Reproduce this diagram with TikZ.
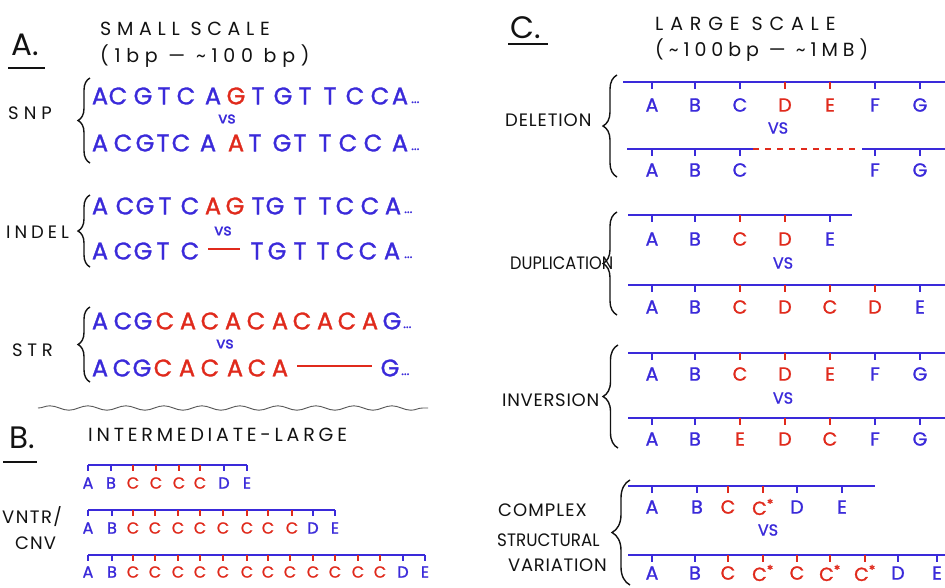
\documentclass[tikz,border=0pt]{standalone}
\usepackage{fontspec}
\setmainfont{Poppins}
\usetikzlibrary{decorations.pathreplacing,decorations.pathmorphing}
\definecolor{cb}{RGB}{58,42,218}
\definecolor{cr}{RGB}{224,42,28}
\definecolor{ink}{RGB}{18,18,18}
% letter-spaced text
\newcommand\ls[2]{{\addfontfeature{LetterSpace=#1}#2}}
% marker-pen weight for the coloured letters
\newcommand\mk{\addfontfeature{FakeBold=1.2}}
% a row of sequence letters: name, y, list x/letter/colour
\newcommand\seqrow[3]{\foreach \x/\l/\c [count=\i] in {#3} {\node[seq,text=\c] (#1-\i) at (\x,#2) {\l};}}
% ticks with labels under a chromosome line: name, line y, label offset, tick length, label style, list
\newcommand\ticks[6]{\foreach \x/\l/\c [count=\i] in {#6} {\draw[tk,draw=\c] (\x,#2) -- (\x,#2+#4); \node[#5,text=\c] (#1-\i) at (\x,#2+#3) {\l};}}
% left curly brace: x, top, bottom, amplitude
\newcommand\hbrace[4]{\draw[brc,decoration={brace,amplitude=#4,aspect=0.5}] (#1,#3) -- (#1,#2);}
\begin{document}
\begin{tikzpicture}[x=1pt,y=-1pt,
  hand/.style={text=ink,inner sep=0,anchor=west,font=\fontsize{19}{19}\selectfont},
  side/.style={text=ink,inner sep=0,anchor=west,font=\fontsize{18}{18}\selectfont},
  head/.style={text=ink,inner sep=0,font=\fontsize{31}{31}\selectfont},
  seq/.style={inner sep=0,font=\fontsize{24}{24}\selectfont\mk},
  dots/.style={inner sep=0,anchor=base west,text=cb,font=\fontsize{13}{13}\selectfont\mk},
  vs/.style={inner sep=0,text=cb,font=\fontsize{16}{16}\selectfont\mk},
  bigvs/.style={inner sep=0,text=cb,font=\fontsize{16}{16}\selectfont\mk},
  blab/.style={inner sep=0,font=\fontsize{16}{16}\selectfont\mk},
  clab/.style={inner sep=0,font=\fontsize{19}{19}\selectfont\mk},
  chr/.style={draw=cb,line width=2.2pt},
  tk/.style={line width=1.8pt},
  bar/.style={draw=cr,line width=2.4pt},
  brc/.style={draw=ink,line width=1.4pt,decorate},
  uline/.style={draw=ink,line width=1.6pt}]
\useasboundingbox (0,0) rectangle (945,587);
\fill[white] (0,0) rectangle (945,587);

% ---------------- A. small scale ----------------
\node[head] (hA) at (25,45) {A.};
\draw[uline] (8,68) -- (45,68);
\node[hand] (tA1) at (100,29) {\ls{30}{SMALL SCALE}};
\node[hand] (tA2) at (100,56) {\ls{30}{(1bp — \textasciitilde100 bp)}};

% SNP
\node[side] (snp) at (8,113) {\ls{28}{SNP}};
\hbrace{90}{78}{163}{12pt}
\seqrow{snpa}{96}{100/A/cb,118/C/cb,143/G/cb,164/T/cb,186/C/cb,213/A/cb,236/G/cr,258/T/cb,283/G/cb,305/T/cb,330/T/cb,355/C/cb,380/C/cb,400/A/cb}
\node[dots] (snpa-d) at (411,103) {...};
\node[vs] (snpvs) at (227,119) {vs};
\seqrow{snpb}{143}{100/A/cb,123/C/cb,145/G/cb,163/T/cb,181/C/cb,208/A/cb,236/A/cr,255/T/cb,282/G/cb,300/T/cb,325/T/cb,348/C/cb,373/C/cb,400/A/cb}
\node[dots] (snpb-d) at (411,150) {...};

% INDEL
\node[side] (indel) at (6,232) {\ls{22}{INDEL}};
\hbrace{90}{195}{267}{12pt}
\seqrow{ina}{206}{100/A/cb,125/C/cb,145/G/cb,165/T/cb,190/C/cb,213/A/cr,235/G/cr,258/T/cb,275/G/cb,300/T/cb,325/T/cb,345/C/cb,370/C/cb,393/A/cb}
\node[dots] (ina-d) at (404,213) {...};
\node[vs] (invs) at (223,231) {vs};
\seqrow{inb}{251}{100/A/cb,123/C/cb,143/G/cb,163/T/cb,190/C/cb,257/T/cb,277/G/cb,300/T/cb,323/T/cb,345/C/cb,368/C/cb,392/A/cb}
\coordinate (inb-g1) at (208,249);
\coordinate (inb-g2) at (240,249);
\draw[bar] (inb-g1) -- (inb-g2);
\node[dots] (inb-d) at (404,258) {...};

% STR
\node[side] (str) at (12,350) {\ls{26}{STR}};
\hbrace{90}{307}{382}{12pt}
\seqrow{stra}{321}{100/A/cb,123/C/cb,143/G/cb,165/C/cr,188/A/cr,210/C/cr,233/A/cr,256/C/cr,280/A/cr,302/C/cr,325/A/cr,347/C/cr,370/A/cr,392/G/cb}
\node[dots] (stra-d) at (403,328) {...};
\node[vs] (strvs) at (225,344) {vs};
\seqrow{strb}{368}{100/A/cb,122/C/cb,142/G/cb,163/C/cr,187/A/cr,210/C/cr,235/A/cr,257/C/cr,280/A/cr,390/G/cb}
\coordinate (strb-g1) at (297,366);
\coordinate (strb-g2) at (372,366);
\draw[bar] (strb-g1) -- (strb-g2);
\node[dots] (strb-d) at (401,375) {...};

% separator
\draw[draw=ink!70,line width=0.9pt,decorate,decoration={snake,amplitude=2.2pt,segment length=38pt}] (38,408) -- (428,408);

% ---------------- B. intermediate-large ----------------
\node[head] (hB) at (22,438) {B.};
\draw[uline] (3,462) -- (37,462);
\node[hand] (tB) at (88,435) {\ls{20}{INTERMEDIATE-LARGE}};
\node[side] (vntr) at (2,517) {\ls{8}{VNTR/}};
\node[side] (cnv) at (15,543) {\ls{6}{CNV}};

\draw[chr] (88,465) -- (247,465);
\ticks{ba}{465}{18}{6}{blab}{88/A/cb,111/B/cb,133/C/cr,156/C/cr,179/C/cr,200/C/cr,224/D/cb,247/E/cb}
\draw[chr] (88,510) -- (335,510);
\ticks{bb}{510}{18}{6}{blab}{88/A/cb,112/B/cb,133/C/cr,155/C/cr,178/C/cr,200/C/cr,223/C/cr,247/C/cr,268/C/cr,292/C/cr,313/D/cb,335/E/cb}
\draw[chr] (88,555) -- (425,555);
\ticks{bc}{555}{17}{6}{blab}{88/A/cb,112/B/cb,133/C/cr,155/C/cr,178/C/cr,200/C/cr,223/C/cr,247/C/cr,268/C/cr,290/C/cr,313/C/cr,335/C/cr,358/C/cr,380/C/cr,403/D/cb,425/E/cb}

% ---------------- C. large scale ----------------
\node[head] (hC) at (526,28) {C.};
\draw[uline] (508,44) -- (548,44);
\node[hand] (tC1) at (655,24) {\ls{36}{LARGE SCALE}};
\node[hand] (tC2) at (655,50) {\ls{26}{(\textasciitilde100bp — \textasciitilde1MB)}};

% deletion
\node[side] (del) at (505,120) {\ls{5}{DELETION}};
\hbrace{617}{75}{177}{14pt}
\draw[chr] (623,82) -- (945,82);
\ticks{dela}{82}{23}{7}{clab}{652/A/cb,695/B/cb,740/C/cb,785/D/cr,830/E/cr,875/F/cb,920/G/cb}
\node[bigvs] (delvs) at (778,128) {VS};
\coordinate (delb-g1) at (753,149);
\coordinate (delb-g2) at (858,149);
\draw[chr] (627,149) -- (delb-g1);
\draw[draw=cr,line width=1.8pt,dash pattern=on 6pt off 6pt] (delb-g1) -- (delb-g2);
\draw[chr] (862,149) -- (945,149);
\ticks{delb}{149}{21}{7}{clab}{652/A/cb,695/B/cb,740/C/cb,875/F/cb,920/G/cb}

% duplication
\node[side] (dup) at (510,263) {\scalebox{0.9}[1]{DUPLICATION}};
\hbrace{617}{212}{315}{14pt}
\draw[chr] (628,215) -- (852,215);
\ticks{dupa}{215}{24}{7}{clab}{652/A/cb,695/B/cb,740/C/cr,785/D/cr,830/E/cb}
\node[bigvs] (dupvs) at (783,263) {VS};
\draw[chr] (628,285) -- (945,285);
\ticks{dupb}{285}{22}{7}{clab}{652/A/cb,695/B/cb,740/C/cr,785/D/cr,830/C/cr,875/D/cr,920/E/cb}

% inversion
\node[side] (inv) at (502,400) {\ls{4}{INVERSION}};
\hbrace{618}{345}{448}{15pt}
\draw[chr] (628,353) -- (945,353);
\ticks{inva}{353}{21}{7}{clab}{652/A/cb,695/B/cb,740/C/cr,785/D/cr,830/E/cr,875/F/cb,920/G/cb}
\node[bigvs] (invvs) at (783,398) {VS};
\draw[chr] (628,418) -- (945,418);
\ticks{invb}{418}{21}{7}{clab}{652/A/cb,695/B/cb,740/E/cr,785/D/cr,830/C/cr,875/F/cb,920/G/cb}

% complex structural variation
\node[side] (cx1) at (498,510) {\ls{6}{COMPLEX}};
\node[side] (cx2) at (497,540) {\scalebox{0.93}[1]{STRUCTURAL}};
\node[side] (cx3) at (508,565) {\ls{4}{VARIATION}};
\hbrace{630}{480}{585}{18pt}
\draw[chr] (628,486) -- (875,486);
\ticks{cxa}{486}{21}{7}{clab}{652/A/cb,697/B/cb,728/C/cr,763/C\textsuperscript{*}/cr,797/D/cb,842/E/cb}
\node[bigvs] (cxvs) at (768,530) {VS};
\draw[chr] (628,555) -- (945,555);
\ticks{cxb}{555}{18}{7}{clab}{652/A/cb,695/B/cb,728/C/cr,763/C\textsuperscript{*}/cr,797/C/cr,830/C\textsuperscript{*}/cr,865/C\textsuperscript{*}/cr,898/D/cb,937/E/cb}
\end{tikzpicture}
\end{document}
